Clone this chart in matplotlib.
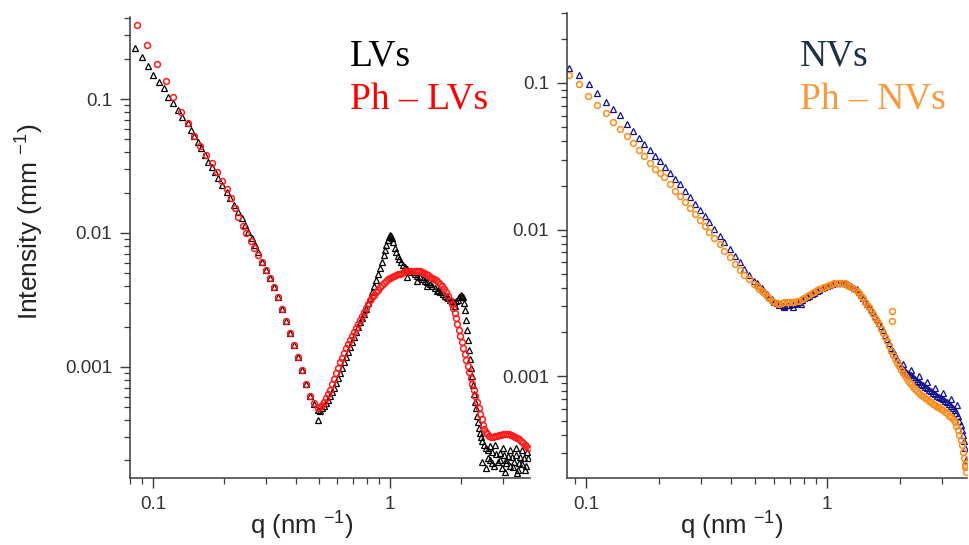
import matplotlib
matplotlib.use("Agg")
import matplotlib.pyplot as plt
from matplotlib.ticker import FixedLocator, LogLocator, NullFormatter, FuncFormatter

plt.rcParams['font.family'] = ['Liberation Sans', 'DejaVu Sans']
plt.rcParams['mathtext.fontset'] = 'custom'
plt.rcParams['mathtext.rm'] = 'Liberation Sans'
plt.rcParams['mathtext.default'] = 'regular'

# ---- left panel: LVs (black triangles) and Ph - LVs (red circles) ----
lvs_q = [0.0839, 0.0896, 0.0950, 0.1003, 0.106, 0.1116, 0.116, 0.122, 0.128, 0.133,
         0.140, 0.1446, 0.149, 0.155, 0.160, 0.166, 0.171, 0.177, 0.183, 0.189,
         0.196, 0.205, 0.211, 0.220, 0.229, 0.237, 0.245, 0.252, 0.261, 0.269, 0.278,
         0.288, 0.300, 0.312, 0.324, 0.337, 0.350, 0.364, 0.379, 0.394, 0.409,
         0.425, 0.442, 0.460, 0.478, 0.497, 0.517, 0.537, 0.558, 0.581, 0.604,
         0.627, 0.652, 0.678, 0.705, 0.733, 0.762, 0.792, 0.824, 0.856, 0.890,
         0.925, 0.952, 0.981, 1.00, 1.02, 1.05, 1.08, 1.11, 1.16, 1.21,
         1.27, 1.34, 1.41, 1.47, 1.55, 1.63, 1.71, 1.79, 1.86, 1.94,
         1.99, 2.03, 2.07, 2.11, 2.15, 2.20, 2.24, 2.28, 2.33, 2.37,
         2.42, 2.49, 2.59, 2.69, 2.80, 2.91, 3.03, 3.15, 3.27, 3.40,
         3.54, 3.68, 3.82,
         # dense part of the curve between the points above
         0.507, 0.527, 0.548, 0.570, 0.593, 0.615, 0.640, 0.665, 0.691, 0.719,
         0.747, 0.777, 0.808, 0.840, 0.873, 0.907, 0.940, 0.966, 0.990, 1.01,
         1.035, 1.065, 1.095, 1.135, 1.185, 1.24, 1.305, 1.375, 1.44, 1.51,
         1.59, 1.67, 1.75, 1.825, 1.90, 1.965, 2.01, 2.05, 2.09, 2.13,
         2.175, 2.22, 2.26, 2.305, 2.35, 2.395, 2.455, 2.54,
         # lower edge of the band and scattered points at high q
         1.18, 1.30, 1.43, 1.58, 1.74, 1.88, 0.497,
         2.44, 2.54, 2.64, 2.75, 2.86, 2.97, 3.09, 3.21, 3.33, 3.47, 3.61, 3.75,
         2.60, 2.65, 2.70, 2.78, 2.90, 3.00, 3.05, 3.10, 3.20, 3.30, 3.40, 3.45,
         3.50, 3.60, 3.70, 3.80]
lvs_i = [0.239, 0.207, 0.177, 0.151, 0.135, 0.120, 0.104, 0.0929, 0.0828, 0.0738,
         0.0659, 0.0587, 0.0532, 0.048, 0.0428, 0.0382, 0.034, 0.0313, 0.0287, 0.0256,
         0.0228, 0.0203, 0.0182, 0.0162, 0.0144, 0.0129, 0.0115, 0.0102, 0.00912, 0.00813, 0.00725,
         0.00608, 0.00530, 0.00461, 0.00395, 0.00333, 0.00271, 0.00220, 0.00179, 0.00146, 0.00119,
         0.000950, 0.000747, 0.000608, 0.000530, 0.000478, 0.000494, 0.000538, 0.000608, 0.000697, 0.000828,
         0.000983, 0.00119, 0.00141, 0.00167, 0.00199, 0.00232, 0.00271, 0.00327, 0.00402, 0.00494,
         0.00608, 0.00746, 0.00887, 0.00966, 0.00918, 0.00773, 0.00673, 0.00608, 0.00557, 0.00520,
         0.00494, 0.00470, 0.00439, 0.00416, 0.00389, 0.00363, 0.00339, 0.00316, 0.00305, 0.00316,
         0.00344, 0.00333, 0.00266, 0.00189, 0.00134, 0.000983, 0.000734, 0.000548, 0.000431, 0.000351,
         0.000301, 0.000262, 0.000240, 0.000232, 0.000224, 0.000228, 0.000220, 0.000217, 0.000213, 0.000220,
         0.000213, 0.000209, 0.000209,
         0.00047, 0.00051, 0.00057, 0.00065, 0.00076, 0.00090, 0.00108, 0.00130, 0.00154, 0.00182,
         0.00215, 0.00250, 0.00298, 0.00362, 0.00445, 0.00550, 0.0068, 0.0082, 0.0093, 0.0095,
         0.0085, 0.0072, 0.0064, 0.0058, 0.0054, 0.0051, 0.0048, 0.00455, 0.00428, 0.00402,
         0.00376, 0.00351, 0.00327, 0.00310, 0.00308, 0.00330, 0.00340, 0.00300, 0.00225, 0.00160,
         0.00115, 0.00085, 0.00063, 0.00049, 0.00039, 0.00032, 0.00028, 0.00025,
         0.00470, 0.00439, 0.00402, 0.00369, 0.00333, 0.00285, 0.000402,
         0.000195, 0.000176, 0.000202, 0.000182, 0.000195, 0.000176, 0.000202, 0.000182, 0.000195, 0.000170, 0.000189, 0.000182,
         0.00021, 0.000255, 0.00019, 0.00026, 0.00020, 0.00025, 0.000165, 0.00019, 0.00024, 0.00018, 0.00025, 0.000160,
         0.00019, 0.00024, 0.00017, 0.00023]

ph_lvs_q = [0.0853, 0.0946, 0.1037, 0.1132, 0.122, 0.131, 0.140, 0.149, 0.158, 0.167,
            0.177, 0.186, 0.196, 0.205, 0.213, 0.222, 0.229, 0.239, 0.248, 0.258,
            0.267, 0.277, 0.288,
            0.300, 0.312, 0.324, 0.337, 0.350, 0.364, 0.379, 0.394, 0.409, 0.425,
            0.442, 0.460, 0.478, 0.497, 0.517, 0.537, 0.558, 0.581, 0.604, 0.627,
            0.652, 0.678, 0.705, 0.733, 0.762, 0.792, 0.824, 0.856, 0.890, 0.925,
            0.962, 1.00, 1.04, 1.08, 1.12, 1.17, 1.21, 1.26, 1.31, 1.36,
            1.42, 1.47, 1.53, 1.59, 1.66, 1.72, 1.79, 1.85, 1.90, 1.95,
            2.01, 2.07, 2.13, 2.20, 2.26, 2.33, 2.40, 2.47, 2.54, 2.62,
            2.72, 2.83, 2.94, 3.06, 3.18, 3.30, 3.43, 3.57, 3.71, 3.82,
            0.507, 0.527, 0.548, 0.570, 0.593, 0.615, 0.640, 0.665, 0.691, 0.719,
            0.747, 0.777, 0.808, 0.840, 0.873, 0.907, 0.943, 0.981, 1.02, 1.06,
            1.10, 1.145, 1.19, 1.235, 1.285, 1.335, 1.39, 1.445, 1.50, 1.56,
            1.625, 1.69, 1.755, 1.82, 1.875, 1.925, 1.98, 2.04, 2.10, 2.165,
            2.23, 2.295, 2.365, 2.435, 2.505, 2.58, 2.67, 2.775, 2.885, 3.00,
            3.12, 3.24, 3.365, 3.50, 3.64, 3.765]
ph_lvs_i = [0.356, 0.253, 0.182, 0.137, 0.104, 0.0804, 0.0659, 0.0532, 0.0448, 0.0382,
            0.0335, 0.0287, 0.0245, 0.0213, 0.0182, 0.0153, 0.0132, 0.0113, 0.00995, 0.00871,
            0.00769, 0.00686, 0.00604,
            0.00530, 0.00461, 0.00395, 0.00333, 0.00271, 0.00220, 0.00179, 0.00146, 0.00119, 0.000950,
            0.000747, 0.000608, 0.000538, 0.000494, 0.000520, 0.000587, 0.000673, 0.000813, 0.000983, 0.00117,
            0.00139, 0.00159, 0.00182, 0.00209, 0.00240, 0.00275, 0.00316, 0.00344, 0.00376, 0.00409,
            0.00439, 0.00461, 0.00478, 0.00494, 0.00502, 0.00520, 0.00520, 0.00520, 0.00520, 0.00512,
            0.00494, 0.00470, 0.00454, 0.00431, 0.00402, 0.00363, 0.00316, 0.00275, 0.00232, 0.00189,
            0.00154, 0.00125, 0.00102, 0.000828, 0.000673, 0.000548, 0.000446, 0.000369, 0.000327, 0.000305,
            0.000301, 0.000305, 0.000311, 0.000316, 0.000316, 0.000305, 0.000295, 0.000281, 0.000262, 0.000249,
            0.00050, 0.00055, 0.00063, 0.00074, 0.00090, 0.00108, 0.00128, 0.00149, 0.00170, 0.00195,
            0.00224, 0.00257, 0.00295, 0.00330, 0.00360, 0.00392, 0.00424, 0.00450, 0.00470, 0.00486,
            0.00498, 0.00511, 0.00520, 0.00520, 0.00520, 0.00516, 0.00503, 0.00482, 0.00462, 0.00442,
            0.00417, 0.00383, 0.00340, 0.00295, 0.00253, 0.00210, 0.00171, 0.00139, 0.00113, 0.00092,
            0.00075, 0.00061, 0.000495, 0.000405, 0.000346, 0.000315, 0.000302, 0.000303, 0.000308, 0.000314,
            0.000316, 0.000310, 0.000300, 0.000288, 0.000271, 0.000255]

# ---- right panel: NVs (navy triangles) and Ph - NVs (orange circles) ----
nvs_q = [0.0851, 0.0938, 0.1029, 0.1114, 0.1206, 0.1297, 0.1381, 0.1473, 0.1568, 0.1656,
         0.1741, 0.1837, 0.1928, 0.2022, 0.212, 0.2223, 0.233, 0.2446, 0.2565, 0.269,
         0.282, 0.296, 0.310, 0.325, 0.341, 0.358, 0.375, 0.394, 0.413, 0.433,
         0.454, 0.476, 0.499, 0.524,
         0.549, 0.576, 0.604, 0.634, 0.664, 0.697, 0.731, 0.766, 0.804, 0.843,
         0.884, 0.927, 0.972, 1.02, 1.07, 1.12, 1.18, 1.23, 1.29, 1.36,
         1.41, 1.46, 1.52, 1.58, 1.64, 1.70, 1.77, 1.84, 1.91, 1.98,
         2.06, 2.14, 2.22, 2.31, 2.40, 2.49, 2.59, 2.69, 2.79, 2.90,
         3.01, 3.13, 3.25, 3.38, 3.48, 3.58, 3.65, 3.72, 3.75,
         2.06, 2.22, 2.40, 2.59, 2.79, 3.01, 3.25, 3.45,
         0.511, 0.536, 0.562, 0.590, 0.619, 0.649, 0.680, 0.714, 0.748, 0.785,
         0.823, 0.863, 0.905, 0.950, 0.995, 1.045, 1.095, 1.15, 1.205, 1.26,
         1.325, 1.385, 1.435, 1.49, 1.55, 1.61, 1.67, 1.735, 1.805, 1.875,
         1.945, 2.02, 2.10, 2.18, 2.265, 2.355, 2.445, 2.54, 2.64, 2.74,
         2.845, 2.955, 3.07, 3.19, 3.315, 3.43, 3.53, 3.615, 3.685,
         0.66, 0.72, 0.78]
nvs_i = [0.1259, 0.1127, 0.0988, 0.0851, 0.0747, 0.0668, 0.0602, 0.0528, 0.0471, 0.0421,
         0.0383, 0.0350, 0.0318, 0.0294, 0.0269, 0.0245, 0.0221, 0.0205, 0.0184, 0.0166,
         0.0150, 0.0136, 0.01245, 0.01122, 0.01012, 0.00910, 0.00820, 0.00740, 0.00665, 0.00600,
         0.00541, 0.00494, 0.00450, 0.00416,
         0.00385, 0.00350, 0.00324, 0.00309, 0.00304, 0.00309, 0.00314, 0.00324, 0.00340, 0.00356,
         0.00372, 0.00391, 0.00409, 0.00423, 0.00430, 0.00430, 0.00430, 0.00423, 0.00403, 0.00378,
         0.00344, 0.00314, 0.00286, 0.00260, 0.00233, 0.00206, 0.00179, 0.00157, 0.00139, 0.00124,
         0.00113, 0.00106, 0.00102, 0.000954, 0.000910, 0.000868, 0.000828, 0.000791, 0.000755, 0.000720,
         0.000698, 0.000666, 0.000625, 0.000587, 0.000535, 0.000464, 0.000397, 0.000324, 0.000268,
         0.00121, 0.00110, 0.00100, 0.000910, 0.000828, 0.000766, 0.000698, 0.000635,
         0.00433, 0.00400, 0.00367, 0.00336, 0.00315, 0.00306, 0.00305, 0.00311, 0.00318, 0.00332,
         0.00348, 0.00364, 0.00381, 0.00400, 0.00416, 0.00427, 0.00430, 0.00430, 0.00427, 0.00414,
         0.00392, 0.00361, 0.00329, 0.00300, 0.00273, 0.00246, 0.00220, 0.00192, 0.00168, 0.00148,
         0.00131, 0.00118, 0.00109, 0.00104, 0.00099, 0.00093, 0.00089, 0.00085, 0.00081, 0.00077,
         0.00074, 0.00071, 0.00068, 0.00065, 0.00061, 0.00056, 0.00050, 0.00043, 0.00036,
         0.00296, 0.00298, 0.00310]

ph_nvs_q = [0.0851, 0.0938, 0.1022, 0.1114, 0.1206, 0.1297, 0.1381, 0.1473, 0.1568, 0.1656,
            0.1741, 0.1837, 0.1928, 0.2022, 0.211, 0.2223, 0.233, 0.2446, 0.2565, 0.269,
            0.282, 0.296, 0.310, 0.325, 0.341, 0.358, 0.375, 0.394, 0.413, 0.433,
            0.454, 0.476, 0.499, 0.524,
            0.549, 0.576, 0.604, 0.634, 0.664, 0.697, 0.731, 0.766, 0.804, 0.843,
            0.884, 0.927, 0.972, 1.02, 1.07, 1.12, 1.18, 1.23, 1.29, 1.36,
            1.41, 1.46, 1.52, 1.58, 1.64, 1.70, 1.77, 1.84, 1.91, 1.98,
            2.06, 2.14, 2.22, 2.31, 2.40, 2.49, 2.59, 2.69, 2.79, 2.90,
            3.01, 3.13, 3.25, 3.38, 3.48, 3.58, 3.65, 3.72, 3.75,
            1.86, 1.86,
            0.511, 0.536, 0.562, 0.590, 0.619, 0.649, 0.680, 0.714, 0.748, 0.785,
            0.823, 0.863, 0.905, 0.950, 0.995, 1.045, 1.095, 1.15, 1.205, 1.26,
            1.325, 1.385, 1.435, 1.49, 1.55, 1.61, 1.67, 1.735, 1.805, 1.875,
            1.945, 2.02, 2.10, 2.18, 2.265, 2.355, 2.445, 2.54, 2.64, 2.74,
            2.845, 2.955, 3.07, 3.19, 3.315, 3.43, 3.53, 3.615, 3.685, 3.73]
ph_nvs_i = [0.1127, 0.0979, 0.0816, 0.0708, 0.0628, 0.0546, 0.0484, 0.0435, 0.0389, 0.0350,
            0.0318, 0.0287, 0.0259, 0.0242, 0.0227, 0.0205, 0.0184, 0.0169, 0.01535, 0.01406,
            0.0128, 0.01164, 0.01064, 0.00960, 0.00879, 0.00800, 0.00720, 0.00649, 0.00585, 0.00532,
            0.00494, 0.00462, 0.00428, 0.00395,
            0.00372, 0.00340, 0.00319, 0.00314, 0.00319, 0.00319, 0.00324, 0.00329, 0.00344, 0.00361,
            0.00378, 0.00397, 0.00409, 0.00423, 0.00430, 0.00430, 0.00430, 0.00416, 0.00397, 0.00372,
            0.00340, 0.00309, 0.00281, 0.00252, 0.00226, 0.00199, 0.00173, 0.00150, 0.00132, 0.00117,
            0.00105, 0.000954, 0.000882, 0.000816, 0.000766, 0.000731, 0.000698, 0.000666, 0.000635, 0.000615,
            0.000587, 0.000560, 0.000526, 0.000486, 0.000429, 0.000367, 0.000304, 0.000248, 0.000222,
            0.00277, 0.00237,
            0.00411, 0.00383, 0.00355, 0.00328, 0.00316, 0.00316, 0.00319, 0.00321, 0.00326, 0.00336,
            0.00352, 0.00369, 0.00387, 0.00403, 0.00416, 0.00427, 0.00430, 0.00430, 0.00423, 0.00407,
            0.00385, 0.00356, 0.00324, 0.00295, 0.00266, 0.00239, 0.00212, 0.00186, 0.00161, 0.00141,
            0.00124, 0.00111, 0.00100, 0.00092, 0.00085, 0.00079, 0.00075, 0.00071, 0.00068, 0.00065,
            0.00062, 0.00060, 0.00057, 0.00054, 0.00051, 0.00046, 0.00040, 0.00034, 0.00028, 0.00024]

x_tick_labels = ["0.1", "1"]
y_tick_labels = ["0.001", "0.01", "0.1"]

W, H = 969, 545
fig = plt.figure(figsize=(W / 100, H / 100), dpi=100)
ax1 = fig.add_axes([130 / W, 1 - 478 / H, 400 / W, 461 / H])
ax2 = fig.add_axes([567 / W, 1 - 478 / H, 400 / W, 465 / H])

spine_col = '#3a3a3a'
for ax in (ax1, ax2):
    ax.set_xscale('log')
    ax.set_yscale('log')
    for s in ('top', 'right'):
        ax.spines[s].set_visible(False)
    for s in ('left', 'bottom'):
        ax.spines[s].set_color(spine_col)
        ax.spines[s].set_linewidth(1.1)
    ax.xaxis.set_major_locator(FixedLocator([0.1, 1]))
    ax.xaxis.set_major_formatter(FuncFormatter(lambda v, p: x_tick_labels[[0.1, 1].index(v)] if v in (0.1, 1) else ""))
    ax.yaxis.set_major_locator(FixedLocator([0.001, 0.01, 0.1]))
    ax.yaxis.set_major_formatter(FuncFormatter(lambda v, p: y_tick_labels[[0.001, 0.01, 0.1].index(v)] if v in (0.001, 0.01, 0.1) else ""))
    ax.xaxis.set_minor_locator(LogLocator(base=10, subs=range(2, 10), numticks=20))
    ax.yaxis.set_minor_locator(LogLocator(base=10, subs=range(2, 10), numticks=20))
    ax.xaxis.set_minor_formatter(NullFormatter())
    ax.yaxis.set_minor_formatter(NullFormatter())
    ax.tick_params(which='major', direction='out', length=7, width=1.0, color=spine_col,
                   labelsize=13.5, labelcolor='#333333', pad=6)
    ax.tick_params(which='minor', direction='out', length=4, width=0.9, color=spine_col)

ax1.plot(lvs_q, lvs_i, linestyle='none', marker='^', ms=4.4, mfc='none', mec='black', mew=0.9)
ax1.plot(ph_lvs_q, ph_lvs_i, linestyle='none', marker='o', ms=4.2, mfc='none', mec='#ff1a1a', mew=1.1)
ax1.set_xlim(0.080, 3.9)
ax1.set_ylim(1.48e-4, 0.41)

ax2.plot(nvs_q, nvs_i, linestyle='none', marker='^', ms=4.4, mfc='none', mec='#10108a', mew=0.9)
ax2.plot(ph_nvs_q, ph_nvs_i, linestyle='none', marker='o', ms=4.2, mfc='none', mec='#ff8c1a', mew=1.1)
ax2.set_xlim(0.0834, 3.8)
ax2.set_ylim(2.03e-4, 0.30)

# labels
fig.text(30 / W, 1 - 222 / H, 'Intensity (mm $^{-1}$)', rotation=90, ha='center', va='center',
         fontsize=19, color='#222222')
fig.text(302 / W, 1 - 526 / H, 'q (nm $^{-1}$)', ha='center', va='center', fontsize=18.5, color='#222222')
fig.text(732 / W, 1 - 526 / H, 'q (nm $^{-1}$)', ha='center', va='center', fontsize=18.5, color='#222222')

serif = ['Liberation Serif', 'DejaVu Serif']
fig.text(350 / W, 1 - 65 / H, 'LVs', family=serif, fontsize=27, color='black', va='baseline')
fig.text(350 / W, 1 - 110 / H, 'Ph \u2013 LVs', family=serif, fontsize=27, color='#ff0000', va='baseline')
fig.text(800 / W, 1 - 65 / H, 'NVs', family=serif, fontsize=27, color='#1b2f45', va='baseline')
fig.text(800 / W, 1 - 110 / H, 'Ph \u2013 NVs', family=serif, fontsize=27, color='#f79a3e', va='baseline')

fig.savefig('out.png', dpi=100)
